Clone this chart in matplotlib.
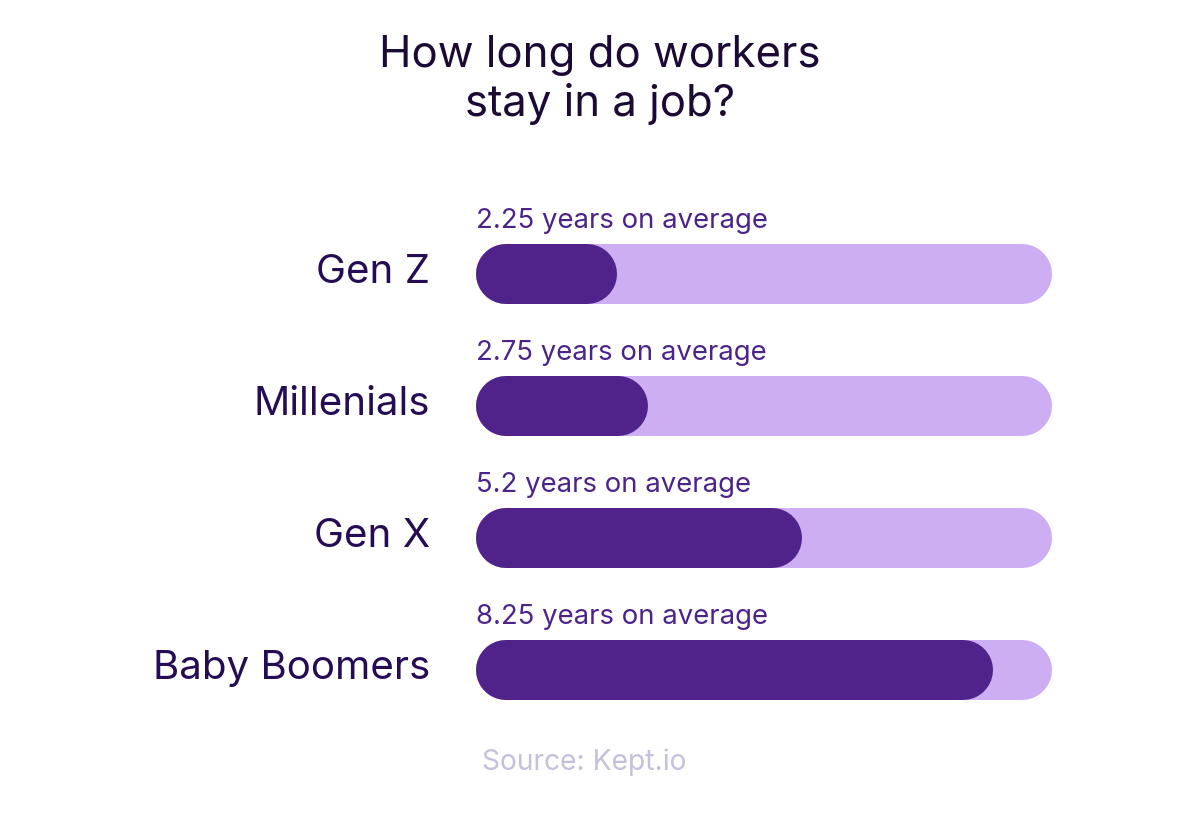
import matplotlib
matplotlib.use("Agg")
import matplotlib.pyplot as plt

# data
groups = ["Gen Z", "Millenials", "Gen X", "Baby Boomers"]
years = [2.25, 2.75, 5.2, 8.25]
scale_max = 9.2  # length of the full background track

# colours
fill_col = "#4f238a"
track_col = "#cdaef2"
label_col = "#240d55"
value_col = "#4b2489"
title_col = "#1a0a35"
source_col = "#c6c0da"

plt.rcParams["font.family"] = ["Inter", "DejaVu Sans"]

W, H, DPI = 1200, 824, 100
fig = plt.figure(figsize=(W / DPI, H / DPI), dpi=DPI)

# bar area in pixels
left_px, width_px = 476, 576
top_px, row_px = 208, 132
bar_h_px = 60
ax = fig.add_axes([left_px / W, 1 - (top_px + row_px * len(groups)) / H,
                   width_px / W, row_px * len(groups) / H])
ax.set_xlim(0, scale_max)
ax.set_ylim(len(groups) - 0.5, -0.5)
ax.axis("off")

lw = bar_h_px * 72 / DPI           # bar thickness in points
r = (bar_h_px / 2) / width_px * scale_max  # cap radius in data units

for i, (g, v) in enumerate(zip(groups, years)):
    ax.plot([r, scale_max - r], [i, i], color=track_col, lw=lw,
            solid_capstyle="round", zorder=1)
    ax.plot([r, v - r], [i, i], color=fill_col, lw=lw,
            solid_capstyle="round", zorder=2)
    ax.annotate(f"{v:g} years on average", xy=(0, i), xytext=(0, 38),
                textcoords="offset points", ha="left", va="center",
                fontsize=19.8, color=value_col)
    ax.annotate(g, xy=(0, i), xytext=(-33, 1), textcoords="offset points",
                ha="right", va="center", fontsize=29, color=label_col)

fig.text(0.5, 1 - 80 / H, "How long do workers\nstay in a job?", ha="center",
         va="center", fontsize=31.5, color=title_col, linespacing=1.2)
fig.text(584 / W, 1 - 762 / H, "Source: Kept.io", ha="center", va="center",
         fontsize=20.3, color=source_col)

fig.savefig("out.png", dpi=DPI, facecolor="white")
